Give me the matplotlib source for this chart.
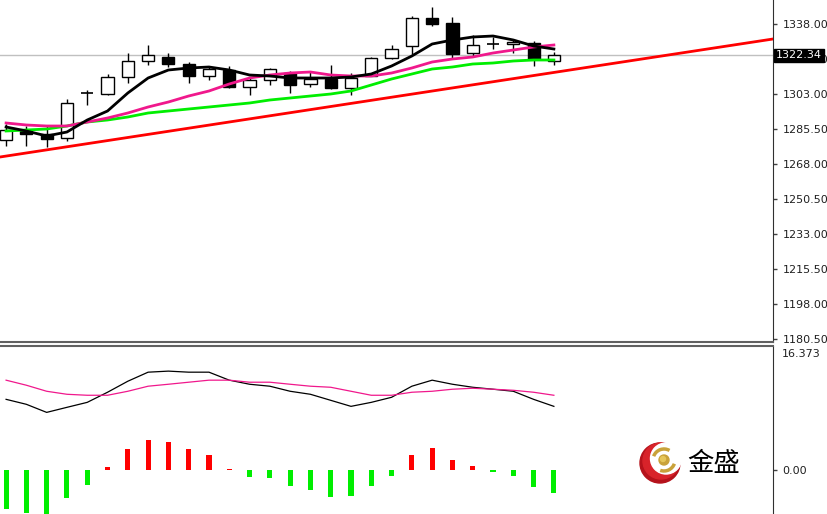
import matplotlib
matplotlib.use("Agg")
import matplotlib.pyplot as plt
import matplotlib.transforms as mtransforms
from matplotlib.patches import Circle, Arc
import numpy as np

# ---------------- data ----------------
opens  = [1280, 1284.5, 1283, 1281, 1303.5, 1303, 1311.5, 1319.5, 1321.5, 1318, 1312, 1315, 1306.5, 1310,
          1313.5, 1308, 1310.5, 1306, 1312, 1321, 1327, 1341, 1338.5, 1323.5, 1328, 1328, 1328.5, 1319.5]
highs  = [1288, 1287, 1287, 1300.5, 1305, 1313, 1323.5, 1327.5, 1323.5, 1319, 1316.5, 1317, 1311, 1316,
          1314.5, 1314, 1317.5, 1313.5, 1321.5, 1327.5, 1342, 1346.5, 1341.5, 1332.5, 1331.5, 1330.5, 1329.5, 1324]
lows   = [1277, 1277, 1276.5, 1279.5, 1297.5, 1302.5, 1308.5, 1317.5, 1316.5, 1308.5, 1310, 1306, 1302.5, 1307.5,
          1303.5, 1306.5, 1305.5, 1302.5, 1312, 1320.5, 1323, 1337, 1320.5, 1321.5, 1325.5, 1323.5, 1317, 1317.5]
closes = [1285, 1283, 1280.5, 1298.5, 1303.5, 1311.5, 1319.5, 1322.5, 1318, 1312, 1315.5, 1306.5, 1310, 1315.5,
          1307.5, 1310.5, 1306, 1311, 1321, 1325.5, 1341, 1338, 1323, 1327.5, 1328, 1329, 1320.5, 1322.34]

ma_fast = [1286.5, 1284.5, 1282, 1284, 1290, 1294.5, 1303.5, 1311, 1315, 1316, 1316.5, 1315, 1312.5, 1312,
           1311, 1311, 1311, 1311.5, 1313, 1317, 1322, 1328, 1330, 1331.5, 1332, 1330, 1327, 1325.5]
ma_mid  = [1288.5, 1287.5, 1287, 1287, 1289, 1291, 1293.5, 1296.5, 1299, 1302, 1304.5, 1308, 1311, 1312.5,
           1313.5, 1314, 1312.5, 1312, 1312, 1313.5, 1316, 1319, 1320.5, 1321.5, 1323.5, 1325, 1326.5, 1327.5]
ma_slow = [1284.5, 1285, 1285.5, 1287, 1289, 1290, 1291.5, 1293.5, 1294.5, 1295.5, 1296.5, 1297.5, 1298.5, 1300,
           1301, 1302, 1303, 1304.5, 1307.5, 1310.5, 1313, 1315.5, 1316.5, 1318, 1318.5, 1319.5, 1320, 1320]

trend_x = [-0.3, 37.8]
trend_y = [1271.5, 1330.5]

last_price = 1322.34
price_ticks = [1338.00, 1320.50, 1303.00, 1285.50, 1268.00, 1250.50, 1233.00, 1215.50, 1198.00, 1180.50]

osc_main = [9.33, 8.67, 7.6, 8.27, 8.93, 10.27, 11.73, 12.93, 13.07, 12.93, 12.93, 11.87, 11.33, 11.07,
            10.4, 10.0, 9.2, 8.4, 8.93, 9.6, 11.07, 11.87, 11.33, 10.93, 10.67, 10.4, 9.33, 8.4]
osc_signal = [11.87, 11.2, 10.4, 10.0, 9.87, 9.87, 10.4, 11.07, 11.33, 11.6, 11.87, 11.87, 11.6, 11.6,
              11.33, 11.07, 10.93, 10.4, 9.87, 9.87, 10.27, 10.4, 10.67, 10.8, 10.67, 10.53, 10.27, 9.87]
osc_hist = [-5.2, -5.7, -6.5, -3.7, -2.0, 0.4, 2.7, 4.0, 3.7, 2.7, 2.0, 0.15, -0.9, -1.1,
            -2.2, -2.7, -3.6, -3.5, -2.2, -0.8, 1.9, 2.9, 1.3, 0.5, -0.3, -0.8, -2.3, -3.1]
osc_top_label = "16.373"

# ---------------- figure ----------------
W, H = 827, 514
fig = plt.figure(figsize=(W / 100, H / 100), dpi=100)
fig.patch.set_facecolor("white")

def px_rect(x0, y0, x1, y1):
    return [x0 / W, 1 - y1 / H, (x1 - x0) / W, (y1 - y0) / H]

ax = fig.add_axes(px_rect(0, 0, 773, 342))
ax2 = fig.add_axes(px_rect(0, 346, 773, 514))

n = len(opens)
xs = np.arange(n)
XL = (-0.3, 37.8)

# candles
body_w = 0.6
for i in range(n):
    o, h, l, c = opens[i], highs[i], lows[i], closes[i]
    ax.vlines(i, l, h, color="black", lw=1, zorder=2)
    if abs(c - o) < 0.3:
        ax.hlines(o, i - body_w / 2, i + body_w / 2, color="black", lw=1.2, zorder=2.1)
    else:
        fc = "white" if c > o else "black"
        ax.bar(i, abs(c - o), bottom=min(o, c), width=body_w, facecolor=fc,
               edgecolor="black", linewidth=1, zorder=2.1)

slope = (trend_y[1] - trend_y[0]) / (trend_x[1] - trend_x[0])
tx = [-2, 45]
ax.plot(tx, [trend_y[0] + slope * (v - trend_x[0]) for v in tx], color="#FF0000", lw=2, zorder=3)
ax.plot(xs, ma_slow, color="#00EE00", lw=2, zorder=3.1)
ax.plot(xs, ma_mid, color="#F0188C", lw=2, zorder=3.2)
ax.plot(xs, ma_fast, color="black", lw=2, zorder=3.3)
ax.axhline(last_price, color="#C0C0C0", lw=1, zorder=1)

ax.set_xlim(*XL)
ax.set_ylim(1179, 1350)
ax.set_xticks([])
ax.yaxis.tick_right()
ax.set_yticks(price_ticks)
ax.set_yticklabels([f"{v:.2f}" for v in price_ticks])
ax.tick_params(axis="y", direction="out", length=3, width=1, pad=4, labelsize=8,
               labelcolor="#202020", color="#404040")
for s in ["top", "left"]:
    ax.spines[s].set_visible(False)
ax.spines["right"].set_color("#303030")
ax.spines["bottom"].set_color("#606060")
ax.spines["bottom"].set_linewidth(1.5)

trans = mtransforms.blended_transform_factory(ax.transAxes, ax.transData)
ax.text(1.004, last_price, f"{last_price:.2f}", transform=trans, color="white", fontsize=8,
        va="center", ha="left", zorder=10,
        bbox=dict(boxstyle="square,pad=0.15", fc="black", ec="black"))

# oscillator panel
hist_colors = ["#FF0000" if v > 0 else "#00EE00" for v in osc_hist]
ax2.bar(xs, osc_hist, width=0.25, color=hist_colors, zorder=2)
ax2.plot(xs, osc_main, color="black", lw=0.9, zorder=3)
ax2.plot(xs, osc_signal, color="#F0188C", lw=0.9, zorder=3)
ax2.set_xlim(*XL)
ax2.set_ylim(-5.87, 16.4)
ax2.set_xticks([])
ax2.yaxis.tick_right()
ax2.set_yticks([0])
ax2.set_yticklabels(["0.00"])
ax2.tick_params(axis="y", direction="out", length=3, width=1, pad=4, labelsize=8,
                labelcolor="#202020", color="#404040")
for s in ["bottom", "left"]:
    ax2.spines[s].set_visible(False)
ax2.spines["right"].set_color("#303030")
ax2.spines["top"].set_color("#606060")
ax2.spines["top"].set_linewidth(1.5)
ax2.text(1.012, 0.985, osc_top_label, transform=ax2.transAxes, fontsize=8, color="#202020",
         va="top", ha="left")

# logo
lax = fig.add_axes(px_rect(630, 435, 760, 490))
lax.set_xlim(630, 760)
lax.set_ylim(490, 435)
lax.set_aspect("equal")
lax.axis("off")
lax.add_patch(Circle((660, 463), 20, color="#B5121B", zorder=1))
lax.add_patch(Circle((661, 461), 18, color="#D8232A", zorder=1.2))
lax.add_patch(Circle((666, 458.5), 15.5, color="white", zorder=2))
lax.add_patch(Arc((664, 460), 22, 22, theta1=200, theta2=300, color="#C9A23A", lw=2.5, zorder=3))
lax.add_patch(Arc((664, 460), 22, 22, theta1=20, theta2=110, color="#C9A23A", lw=2.5, zorder=3))
lax.add_patch(Circle((664, 460), 5, color="#C9A23A", zorder=4))
lax.add_patch(Circle((663, 459), 2.5, color="#E5C65A", zorder=5))
lax.text(687, 463, "金盛", fontsize=19, family=["Noto Sans CJK SC", "DejaVu Sans"],
         va="center", ha="left", color="black", zorder=5)

fig.savefig("out.png", dpi=100)
